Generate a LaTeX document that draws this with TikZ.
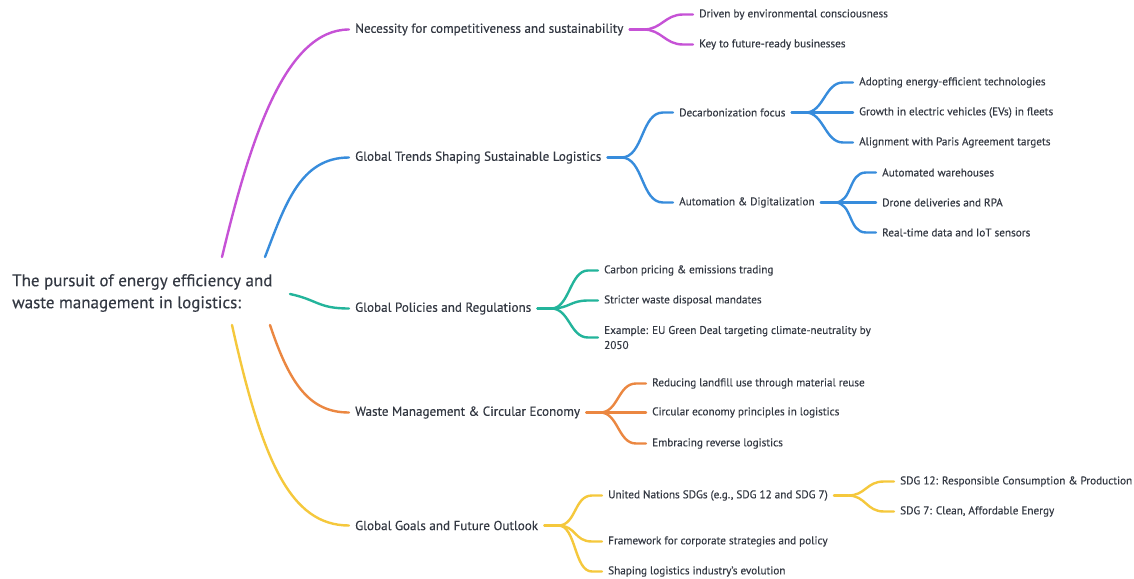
\documentclass[tikz,border=0pt]{standalone}
\usepackage{fontspec}
\setmainfont{PT Sans}[FakeBold=0.35]
\usetikzlibrary{calc}
\definecolor{cpur}{HTML}{C652D6}
\definecolor{cblu}{HTML}{378CDC}
\definecolor{ctea}{HTML}{23B49B}
\definecolor{cora}{HTML}{EB8741}
\definecolor{cyel}{HTML}{F5C83C}
\definecolor{ctxt}{HTML}{343943}
\begin{document}
\begin{tikzpicture}[x=1pt,y=-1pt,
  lbl/.style={anchor=west,inner xsep=6pt,inner ysep=1pt,text=ctxt},
  mainlbl/.style={lbl,font=\fontsize{13.1}{15}\selectfont},
  leaflbl/.style={lbl,font=\fontsize{11.2}{15}\selectfont},
  conn/.style={line width=2.4pt,line cap=round},
  pc/.style={conn,draw=cpur},
  bc/.style={conn,draw=cblu},
  tc/.style={conn,draw=ctea},
  oc/.style={conn,draw=cora},
  yc/.style={conn,draw=cyel}]
\useasboundingbox[fill=white] (0,0) rectangle (1134,578);
\newcommand\branch[3]{\draw[#1] (#2) .. controls +(18,0) and +(-18,0) .. ([xshift=-10pt]#3.west) -- (#3.west);}

% root
\node[anchor=west,inner sep=0pt,text=ctxt,align=left,font=\fontsize{17}{22}\selectfont] (root) at (12,293)
  {The pursuit of energy efficiency and\\waste management in logistics:};
\coordinate (rp) at (222,257);
\coordinate (rb) at (265,257);
\coordinate (rt) at (290,294);
\coordinate (ro) at (270,325);
\coordinate (ry) at (232,325);

% main labels
\node[mainlbl] (m1) at (349,29.5) {Necessity for competitiveness and sustainability};
\node[mainlbl] (m2) at (349,157.5) {Global Trends Shaping Sustainable Logistics};
\node[mainlbl] (m3) at (349,308.5) {Global Policies and Regulations};
\node[mainlbl] (m4) at (349,412.5) {Waste Management \& Circular Economy};
\node[mainlbl] (m5) at (349,525.5) {Global Goals and Future Outlook};

\draw[pc] (rp) .. controls (250,140) and (285,29.5) .. (m1.west);
\draw[bc] (rb) .. controls (285,205) and (300,157.5) .. (m2.west);
\draw[tc] (rt) .. controls (318,300) and (318,308.5) .. (m3.west);
\draw[oc] (ro) .. controls (290,385) and (310,412.5) .. (m4.west);
\draw[yc] (ry) .. controls (262,460) and (290,525.5) .. (m5.west);

% purple
\node[leaflbl] (p1) at (693,14.5) {Driven by environmental consciousness};
\node[leaflbl] (p2) at (693,44.5) {Key to future-ready businesses};
\coordinate (fp) at ([xshift=14pt]m1.east);
\draw[pc] (m1.east) -- (fp);
\branch{pc}{fp}{p1}
\branch{pc}{fp}{p2}

% blue
\node[leaflbl] (b1) at (673,112.5) {Decarbonization focus};
\node[leaflbl] (b2) at (673,202.5) {Automation \& Digitalization};
\coordinate (fb) at ([xshift=14pt]m2.east);
\draw[bc] (m2.east) -- (fb);
\draw[bc] (fb) .. controls +(22,0) and +(-22,0) .. ([xshift=-10pt]b1.west) -- (b1.west);
\draw[bc] (fb) .. controls +(22,0) and +(-22,0) .. ([xshift=-10pt]b2.west) -- (b2.west);

\node[leaflbl] (b11) at (853,82.5) {Adopting energy-efficient technologies};
\node[leaflbl] (b12) at (853,112.5) {Growth in electric vehicles (EVs) in fleets};
\node[leaflbl] (b13) at (853,142.5) {Alignment with Paris Agreement targets};
\coordinate (fb1) at ([xshift=14pt]b1.east);
\draw[bc] (b1.east) -- (fb1);
\branch{bc}{fb1}{b11}
\draw[bc] (fb1) -- (b12.west);
\branch{bc}{fb1}{b13}

\node[leaflbl] (b21) at (876,172.5) {Automated warehouses};
\node[leaflbl] (b22) at (876,202.5) {Drone deliveries and RPA};
\node[leaflbl] (b23) at (876,232.5) {Real-time data and IoT sensors};
\coordinate (fb2) at ([xshift=14pt]b2.east);
\draw[bc] (b2.east) -- (fb2);
\branch{bc}{fb2}{b21}
\draw[bc] (fb2) -- (b22.west);
\branch{bc}{fb2}{b23}

% teal
\node[leaflbl] (t1) at (598,270.5) {Carbon pricing \& emissions trading};
\node[leaflbl] (t2) at (598,300.5) {Stricter waste disposal mandates};
\node[leaflbl,align=left,font=\fontsize{11.2}{15}\selectfont] (t3) at (598,337.5) {Example: EU Green Deal targeting climate-neutrality by\\2050};
\coordinate (ft) at ([xshift=14pt]m3.east);
\draw[tc] (m3.east) -- (ft);
\branch{tc}{ft}{t1}
\branch{tc}{ft}{t2}
\branch{tc}{ft}{t3}

% orange
\node[leaflbl] (o1) at (646,383.5) {Reducing landfill use through material reuse};
\node[leaflbl] (o2) at (646,412.5) {Circular economy principles in logistics};
\node[leaflbl] (o3) at (646,443.5) {Embracing reverse logistics};
\coordinate (fo) at ([xshift=14pt]m4.east);
\draw[oc] (m4.east) -- (fo);
\branch{oc}{fo}{o1}
\draw[oc] (fo) -- (o2.west);
\branch{oc}{fo}{o3}

% yellow
\node[leaflbl] (y1) at (602,495.5) {United Nations SDGs (e.g., SDG 12 and SDG 7)};
\node[leaflbl] (y2) at (602,541.5) {Framework for corporate strategies and policy};
\node[leaflbl] (y3) at (602,571.5) {Shaping logistics industry's evolution};
\coordinate (fy) at ([xshift=14pt]m5.east);
\draw[yc] (m5.east) -- (fy);
\branch{yc}{fy}{y1}
\branch{yc}{fy}{y2}
\branch{yc}{fy}{y3}

\node[leaflbl] (y11) at (894,481.5) {SDG 12: Responsible Consumption \& Production};
\node[leaflbl] (y12) at (894,511.5) {SDG 7: Clean, Affordable Energy};
\coordinate (fy1) at ([xshift=14pt]y1.east);
\draw[yc] (y1.east) -- (fy1);
\branch{yc}{fy1}{y11}
\branch{yc}{fy1}{y12}
\end{tikzpicture}
\end{document}
